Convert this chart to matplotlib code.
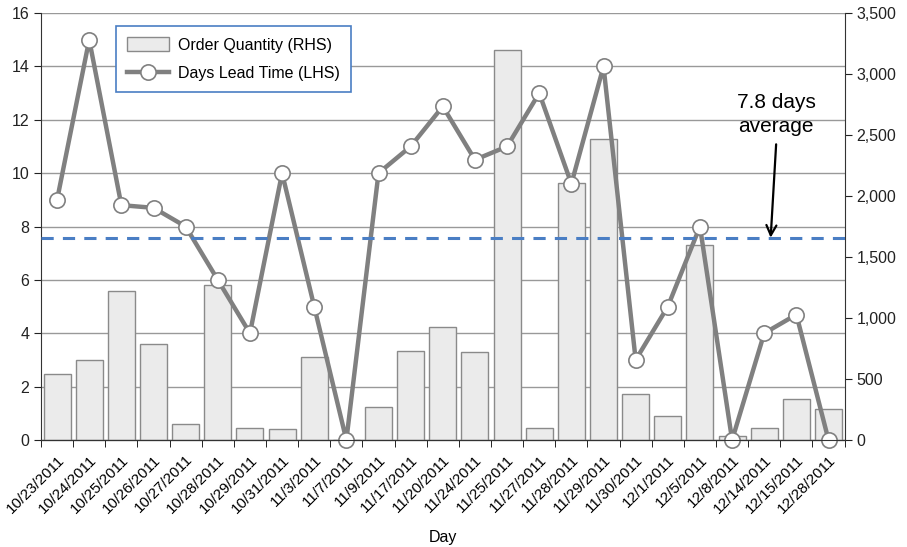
import matplotlib
matplotlib.use("Agg")
import matplotlib.pyplot as plt
import numpy as np

plt.rcParams['font.family'] = ['Liberation Sans', 'DejaVu Sans']
plt.rcParams['font.size'] = 11.5

days = ['10/23/2011', '10/24/2011', '10/25/2011', '10/26/2011', '10/27/2011',
        '10/28/2011', '10/29/2011', '10/31/2011', '11/3/2011', '11/7/2011',
        '11/9/2011', '11/17/2011', '11/20/2011', '11/24/2011', '11/25/2011',
        '11/27/2011', '11/28/2011', '11/29/2011', '11/30/2011', '12/1/2011',
        '12/5/2011', '12/8/2011', '12/14/2011', '12/15/2011', '12/28/2011']
lead_time = [9, 15, 8.8, 8.7, 8, 6, 4, 10, 5, 0, 10, 11, 12.5, 10.5, 11,
             13, 9.6, 14, 3, 5, 8, 0, 4, 4.7, 0]
order_qty = [540, 655, 1220, 790, 130, 1268, 100, 93, 680, 0, 273, 730, 930,
             720, 3200, 100, 2105, 2470, 375, 200, 1600, 33, 100, 336, 252]
avg_line = 7.58

x = np.arange(len(days))

fig = plt.figure(figsize=(9.07, 5.47), dpi=100)
ax = fig.add_axes([0.0452, 0.1956, 0.886, 0.7806])
ax2 = ax.twinx()
ax3 = ax.twinx()
ax2.set_zorder(ax.get_zorder() + 1)
ax3.set_zorder(ax.get_zorder() + 2)
ax2.patch.set_visible(False)
ax3.patch.set_visible(False)

# grid sits on the bottom axes so the bars cover it
ax.set_ylim(0, 16)
ax.set_yticks(range(0, 17, 2))
ax.yaxis.grid(True, color='#999999', linewidth=1)
ax.set_axisbelow(True)
ax.set_xlim(-0.5, len(days) - 0.5)

bars = ax2.bar(x, order_qty, width=0.84, color='#ebebeb', edgecolor='#8a8a8a',
               linewidth=1, label='Order Quantity (RHS)')
ax2.set_ylim(0, 3500)
ax2.set_yticks(range(0, 3501, 500))
ax2.set_yticklabels([f'{v:,}' for v in range(0, 3501, 500)])

line, = ax3.plot(x, lead_time, color='#808080', linewidth=3.2, marker='o',
                 markersize=11, markerfacecolor='white', markeredgecolor='#808080',
                 markeredgewidth=1.2, label='Days Lead Time (LHS)', clip_on=False)
ax3.axhline(avg_line, color='#4a7ec4', linewidth=2.2, linestyle=(0, (4, 3)))
ax3.set_ylim(0, 16)
ax3.set_yticks([])
ax3.annotate('', xy=(22.2, avg_line), xytext=(22.37, 11.08),
             arrowprops=dict(arrowstyle='->', color='black', lw=1.6,
                             mutation_scale=18, shrinkA=0, shrinkB=0))
ax3.text(22.37, 12.2, '7.8 days\naverage', ha='center', va='center',
         fontsize=15, linespacing=1.3)

for a in (ax, ax2, ax3):
    a.spines['top'].set_visible(False)
    for s in ('left', 'right', 'bottom'):
        a.spines[s].set_color('#333333')
ax.spines['right'].set_visible(False)
ax3.spines['left'].set_visible(False)
ax3.spines['right'].set_visible(False)
ax2.spines['left'].set_visible(False)

ax.tick_params(axis='y', direction='out', length=5, colors='#222222')
ax2.tick_params(axis='y', direction='out', length=5, colors='#222222')

ax.set_xticks(x)
ax.set_xticklabels(days, rotation=45, ha='right', rotation_mode='anchor', fontsize=11)
ax.set_xticks(np.arange(-0.5, len(days), 1), minor=True)
ax.tick_params(axis='x', which='major', length=0, pad=9)
ax.tick_params(axis='x', which='minor', length=5, direction='out')
ax.set_xlabel('Day', labelpad=10)

leg = fig.legend([bars, line], ['Order Quantity (RHS)', 'Days Lead Time (LHS)'],
                 loc='upper left', bbox_to_anchor=(0.128, 0.9525), borderaxespad=0,
                 fancybox=False, edgecolor='#4a7ec4', framealpha=1,
                 handlelength=2.6, handleheight=1.0, borderpad=0.7, labelspacing=0.8,
                 handletextpad=0.6)
leg.get_frame().set_linewidth(1.2)

fig.savefig('out.png', dpi=100)
